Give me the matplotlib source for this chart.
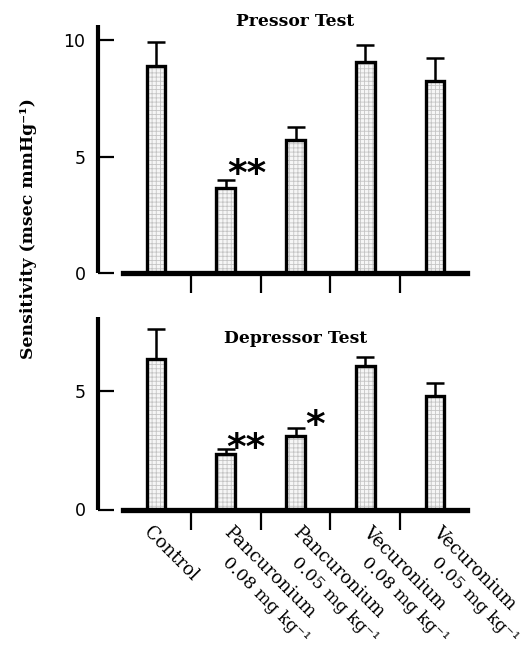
import matplotlib
matplotlib.use("Agg")
import matplotlib.pyplot as plt
import numpy as np

# ---- data ----
categories_line1 = ["Control", "Pancuronium", "Pancuronium", "Vecuronium", "Vecuronium"]
categories_line2 = ["", "0.08 mg kg⁻¹", "0.05 mg kg⁻¹", "0.08 mg kg⁻¹", "0.05 mg kg⁻¹"]
pressor_mean = [8.9, 3.65, 5.7, 9.05, 8.25]
pressor_sem = [1.0, 0.35, 0.55, 0.75, 1.0]
depressor_mean = [6.35, 2.35, 3.1, 6.05, 4.8]
depressor_sem = [1.25, 0.2, 0.35, 0.4, 0.55]
pressor_sig = ["", "**", "", "", ""]
depressor_sig = ["", "**", "*", "", ""]
ylabel = "Sensitivity (msec mmHg⁻¹)"

W, H = 530, 651
fig = plt.figure(figsize=(W / 100, H / 100), dpi=100)
plt.rcParams["hatch.linewidth"] = 0.6

def rect(l, r, top, bottom):
    return [l / W, 1 - bottom / H, (r - l) / W, (bottom - top) / H]

x = np.arange(len(pressor_mean))
unit = 69.75
x_left = (98 - 156) / unit
x_right = (467 - 156) / unit
x_base_start = (123 - 156) / unit

serif = "DejaVu Serif"

def draw_panel(ax, means, sems, ytop, yticks, title, title_y, sig, sig_pos):
    ax.bar(x, means, width=0.27, color="#f6f6f6", edgecolor="#c4c4c4",
           hatch="++++", linewidth=0, zorder=2)
    ax.bar(x, means, width=0.27, fill=False, edgecolor="black",
           linewidth=2.4, zorder=3)
    ax.errorbar(x, means, yerr=[np.zeros(len(means)), sems], fmt="none",
                ecolor="black", elinewidth=1.8, capsize=6.5, capthick=1.8,
                zorder=1)
    ax.set_xlim(x_left, x_right)
    ax.set_ylim(0, ytop)
    for s in ["top", "right"]:
        ax.spines[s].set_visible(False)
    ax.spines["left"].set_linewidth(3.0)
    ax.spines["bottom"].set_linewidth(3.8)
    ax.spines["left"].set_bounds(0, ytop)
    ax.spines["bottom"].set_bounds(x_base_start, x_right)
    ax.spines["left"].set_capstyle("butt")
    ax.set_yticks(yticks)
    ax.set_yticklabels([str(t) for t in yticks], fontsize=12.5,
                       family="DejaVu Sans")
    ax.tick_params(axis="y", direction="in", length=11.5, width=1.6, pad=9)
    ax.set_xticks([0.5, 1.5, 2.5, 3.5])
    ax.set_xticklabels([])
    ax.tick_params(axis="x", direction="out", length=14.5, width=1.6)
    ax.patch.set_alpha(0)
    ax.text(2.0, title_y, title, ha="center", va="center", fontsize=12.3,
            family=serif, fontweight="bold", clip_on=False)
    for lab, (sx, sy) in zip(sig, sig_pos):
        if lab:
            ax.text(sx, sy, lab, ha="center", va="center", fontsize=27,
                    family="DejaVu Sans", fontweight="bold", clip_on=False)

ax1 = fig.add_axes(rect(98, 467, 25, 273))
draw_panel(ax1, pressor_mean, pressor_sem, 10.65, [0, 5, 10],
           "Pressor Test", 10.8, pressor_sig,
           [(0, 0), (1.30, 4.2), (0, 0), (0, 0), (0, 0)])

ax2 = fig.add_axes(rect(98, 467, 316.7, 509.5))
draw_panel(ax2, depressor_mean, depressor_sem, 8.13, [0, 5],
           "Depressor Test", 7.19, depressor_sig,
           [(0, 0), (1.29, 2.55), (2.28, 3.52), (0, 0), (0, 0)])

# category labels
for i, (l1, l2) in enumerate(zip(categories_line1, categories_line2)):
    dx = -2.4 if i == 0 else 5.0
    ax2.annotate(l1, xy=(i, 0), xycoords="data", xytext=(dx, -9.5),
                 textcoords="offset points", rotation=-45, ha="left",
                 va="top", rotation_mode="anchor", fontsize=13,
                 family=serif, annotation_clip=False)
    if l2:
        ax2.annotate(l2, xy=(i, 0), xycoords="data", xytext=(3.6, -32.0),
                     textcoords="offset points", rotation=-45, ha="left",
                     va="top", rotation_mode="anchor", fontsize=12.4,
                     family=serif, annotation_clip=False)

fig.text(29 / W, 1 - 229 / H, ylabel, rotation=90, ha="center", va="center",
         fontsize=12.4, family=serif, fontweight="bold")

fig.savefig("out.png", dpi=100)
